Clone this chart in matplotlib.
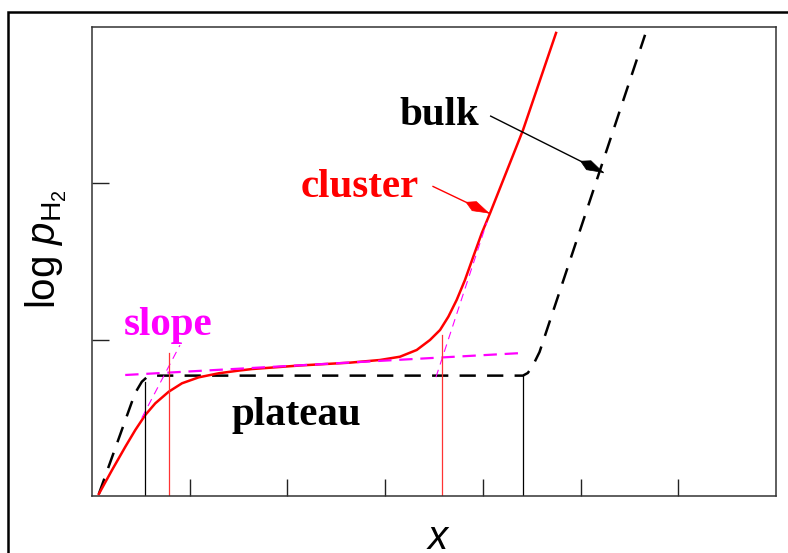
import numpy as np
import matplotlib
matplotlib.use('Agg')
import matplotlib.pyplot as plt
from matplotlib.patches import Rectangle, Polygon
from matplotlib.transforms import Affine2D

plt.rcParams['mathtext.fontset'] = 'custom'
plt.rcParams['mathtext.rm'] = 'Liberation Sans'
plt.rcParams['mathtext.it'] = 'Liberation Sans:italic'

# bulk isotherm (black dashed)
bulk_x = [0.07, 0.44, 0.51, 0.56, 0.65, 4.41, 4.46, 4.51, 4.58, 5.66]
bulk_y = [0.013, 0.657, 0.731, 0.759, 0.770, 0.770, 0.787, 0.832, 0.921, 2.95]

# cluster isotherm (red solid)
clus_x = [0.07, 0.205, 0.341, 0.443, 0.545, 0.648, 0.785, 0.921, 1.092,
          1.297, 1.501, 1.637, 2.13, 2.64, 2.947, 3.152, 3.323, 3.459,
          3.562, 3.647, 3.732, 3.817, 3.902, 3.988, 4.073, 4.411, 4.749]
clus_y = [0.013, 0.166, 0.315, 0.422, 0.518, 0.593, 0.667, 0.721, 0.759,
          0.785, 0.802, 0.812, 0.835, 0.853, 0.870, 0.891, 0.934, 0.998,
          1.062, 1.147, 1.254, 1.382, 1.531, 1.680, 1.808, 2.341, 2.962]

# slope construction (magenta): plateau fit and two tangents
plat_x = [0.34, 4.41]
plat_y = [0.774, 0.915]
tan1_x = [0.51, 0.90]
tan1_y = [0.50, 0.965]
tan2_x = [3.52, 4.04]
tan2_y = [0.76, 1.75]

# markers on the x axis
bulk_marks = [0.546, 4.41]
bulk_mark_top = [0.731, 0.770]
clus_marks = [0.785, 3.579]
clus_mark_top = [0.915, 1.03]

fig = plt.figure(figsize=(7.88, 5.53), dpi=100)
ax = fig.add_axes([92/788, 57/553, 684/788, 469/553])

ax.plot(bulk_x, bulk_y, color='black', lw=1.8, dashes=(6.5, 4.5))
ax.plot(clus_x, clus_y, color='#ff0000', lw=1.8, solid_joinstyle='round')
ax.plot(plat_x, plat_y, color='#ff00ff', lw=1.6, dashes=(6, 3.5))
ax.plot(tan1_x, tan1_y, color='#ff00ff', lw=0.8, dashes=(7, 5))
ax.plot(tan2_x, tan2_y, color='#ff00ff', lw=0.8, dashes=(7, 5))

for xm, ym in zip(bulk_marks, bulk_mark_top):
    ax.plot([xm, xm], [0, ym], color='black', lw=0.9)
for xm, ym in zip(clus_marks, clus_mark_top):
    ax.plot([xm, xm], [0, ym], color='#ff3333', lw=0.9)

tfont = dict(family='Liberation Serif', weight='bold', size=29.5)
ax.text(0.33, 1.03, 'slope', color='#ff00ff', va='baseline', **tfont)
ax.text(1.43, 0.455, 'plateau', color='black', va='baseline', **tfont)
ax.text(2.13, 1.913, 'cluster', color='#ff0000', va='baseline', **tfont)
ax.text(3.15, 2.374, 'bulk', color='black', va='baseline', **tfont)

ax.set_xlim(0, 7)
ax.set_ylim(0, 3)


def kite_arrow(tail, tip, color):
    # straight shaft plus a kite-shaped head, head built in pixels
    ax.plot([tail[0], tip[0]], [tail[1], tip[1]], color=color, lw=1.0)
    p0 = ax.transData.transform(tail)
    p1 = ax.transData.transform(tip)
    ang = np.arctan2(p1[1] - p0[1], p1[0] - p0[0])
    head = [(0, 0), (-16, 5), (-25, 0), (-16, -5)]
    tr = Affine2D().rotate(ang).translate(p1[0], p1[1])
    fig.add_artist(Polygon(head, closed=True, transform=tr,
                           facecolor=color, edgecolor=color, lw=0.5))


kite_arrow((3.49, 1.98), (4.06, 1.81), '#ff0000')
kite_arrow((4.08, 2.43), (5.23, 2.07), 'black')

ax.set_xticks([1, 2, 3, 4, 5, 6])
ax.set_yticks([1, 2])
ax.set_xticklabels([])
ax.set_yticklabels([])
ax.tick_params(direction='in', length=12, width=1.0, color='#222222')
for s in ax.spines.values():
    s.set_color('#333333')
    s.set_linewidth(1.1)

ax.set_ylabel(r'log $p_{\mathrm{H}_2}$', family='Liberation Sans', size=29)
ax.yaxis.set_label_coords(-0.034, 0.527)
ax.set_xlabel(r'$x$', size=29)
ax.xaxis.set_label_coords(0.506, -0.113)
ax.xaxis.label.set_va('baseline')

# outer frame, running off the right and bottom edges
fig.add_artist(Rectangle((8/788, -0.2), 1.3, 1.2 - 12/553,
                         transform=fig.transFigure, fill=False,
                         lw=1.8, color='black', clip_on=False))

plt.savefig('out.png', dpi=100)
plt.close()
